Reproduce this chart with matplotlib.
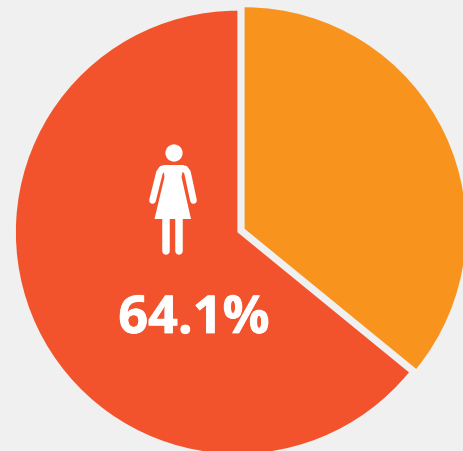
import numpy as np
import matplotlib
matplotlib.use("Agg")
import matplotlib.pyplot as plt
import matplotlib.patheffects as pe
from matplotlib.patches import Circle, Polygon

W, H = 463, 451
BG = "#F0F0F0"

labels = ["Female", "Male"]
shares = [35.9, 64.1]
colors = ["#F8941D", "#F2532D"]
value_label = "64.1%"

fig = plt.figure(figsize=(W / 100, H / 100), dpi=100, facecolor=BG)
ax = fig.add_axes([0, 0, 1, 1])

# pie in pixel units so it lines up with the icon, explode is in data units too
radius = 221.5
ax.pie(shares, colors=colors, startangle=90, counterclock=False,
       explode=[4, 4], center=(241, H - 230.5), radius=radius,
       wedgeprops={"linewidth": 0})
ax.set_xlim(0, W)
ax.set_ylim(0, H)
ax.set_aspect("equal")
ax.axis("off")


def flip(points):
    pts = np.array(points, dtype=float)
    pts[:, 1] = H - pts[:, 1]
    return pts


# woman icon
ax.add_patch(Circle((174, H - 153), 8.6, color="white", lw=0, zorder=5))
dress = [(163, 165), (184, 165), (181.5, 177), (191, 219), (154.5, 219), (164.5, 177)]
ax.add_patch(Polygon(flip(dress), closed=True, color="white", lw=0, zorder=5))
for arm in ([(166, 168.5), (162, 169), (159.5, 172.5), (152.5, 200.5)],
            [(181, 168.5), (185, 169), (187.5, 172.5), (193.5, 200.5)]):
    pts = flip(arm)
    ax.plot(pts[:, 0], pts[:, 1], color="white", lw=4.8, solid_capstyle="round",
            solid_joinstyle="round", zorder=5)
for leg_x in (166.2, 179):
    pts = flip([(leg_x, 215), (leg_x, 250.5)])
    ax.plot(pts[:, 0], pts[:, 1], color="white", lw=5.4, solid_capstyle="round", zorder=5)

txt = ax.text(194, H - 333, value_label, color="white", fontsize=37.6, fontweight="bold",
              family="Open Sans", ha="center", va="baseline", zorder=6)
txt.set_path_effects([pe.withStroke(linewidth=0.6, foreground="white")])

fig.savefig("out.png", dpi=100, facecolor=BG)
plt.close(fig)
